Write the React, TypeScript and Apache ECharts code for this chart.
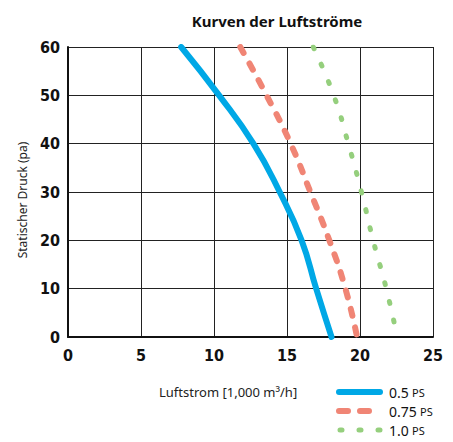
import React, { useEffect, useRef } from "react";
import * as echarts from "echarts";

const pressure = [60, 50, 40, 30, 20, 10, 0];
const flow05 = [7.75, 10.35, 12.7, 14.5, 16.0, 17.0, 18.05];
const flow075 = [11.8, 13.6, 15.25, 16.6, 17.9, 19.0, 19.8];
const flow10 = [16.8, 18.2, 19.2, 20.1, 20.9, 21.8, 22.55];
const seriesNames = ["0.5", "0.75", "1.0"];
const unit = "PS";

const pairs = (xs: number[]) => xs.map((x, i) => [x, pressure[i]]);

const colors = ["#00a8e6", "#f08575", "#95cf7d"];
const lineTypes: any[] = ["solid", [7, 12], [2, 17]];
const widths = [6, 6, 5];

export default function App() {
  const ref = useRef<HTMLDivElement>(null);
  useEffect(() => {
    if (!ref.current) return;
    const chart = echarts.init(ref.current, undefined, { renderer: "svg" });
    const numFont = "'Liberation Sans Narrow', 'DejaVu Sans Condensed', sans-serif";
    const txtFont = "'Noto Sans', sans-serif";
    const legendDash: any[] = [null, [9, 12], [2, 17]];
    const legendItems: any[] = [];
    seriesNames.forEach((n, i) => {
      const y = 392 + i * 19;
      legendItems.push({
        type: "line",
        shape: { x1: i === 2 ? 340 : 339, y1: y, x2: 380, y2: y },
        style: { stroke: colors[i], lineWidth: widths[i], lineDash: legendDash[i], lineCap: "round" },
      });
      legendItems.push({
        type: "text",
        x: 389,
        y: y,
        style: {
          text: `{a|${n}} {b|${unit}}`,
          verticalAlign: "middle",
          rich: {
            a: { fontSize: 14, fill: "#111", fontFamily: txtFont },
            b: { fontSize: 11, fill: "#111", fontFamily: txtFont },
          },
        },
      });
    });
    chart.setOption({
      animation: false,
      backgroundColor: "#fff",
      title: {
        text: "Kurven der Luftströme",
        left: 272,
        textAlign: "center",
        top: 8,
        textStyle: { fontSize: 15, fontWeight: "bold", color: "#111", fontFamily: txtFont },
      },
      grid: { left: 68, right: 20, top: 47, bottom: 105, containLabel: false, outerBoundsMode: "none" },
      xAxis: {
        type: "value",
        min: 0,
        max: 25,
        interval: 5,
        axisLine: { show: true, lineStyle: { color: "#111", width: 2 } },
        axisTick: { show: false },
        splitLine: { show: true, lineStyle: { color: "#222", width: 1 } },
        axisLabel: { color: "#111", fontSize: 16, fontWeight: "bold", fontFamily: numFont, margin: 10 },
      },
      yAxis: {
        type: "value",
        min: 0,
        max: 60,
        interval: 10,
        axisLine: { show: true, lineStyle: { color: "#111", width: 2 } },
        axisTick: { show: false },
        splitLine: { show: true, lineStyle: { color: "#222", width: 1 } },
        axisLabel: { color: "#111", fontSize: 16, fontWeight: "bold", fontFamily: numFont, margin: 8 },
      },
      graphic: [
        {
          type: "text",
          x: 22,
          y: 200,
          rotation: Math.PI / 2,
          style: {
            text: "Statischer Druck (pa)",
            fontSize: 12,
            fill: "#222",
            fontFamily: txtFont,
            align: "center",
            verticalAlign: "middle",
          },
        },
        {
          type: "text",
          x: 159,
          y: 392,
          style: {
            text: "Luftstrom [1,000 m³/h]",
            fontSize: 13,
            fill: "#222",
            fontFamily: txtFont,
            verticalAlign: "middle",
          },
        },
        ...legendItems,
      ],
      series: seriesNames.map((n, i) => ({
        name: n,
        type: "line",
        smooth: 0.5,
        symbol: "none",
        data: pairs([flow05, flow075, flow10][i]),
        lineStyle: { color: colors[i], width: widths[i], type: lineTypes[i], cap: "round" },
        itemStyle: { color: colors[i] },
      })),
    });
    return () => chart.dispose();
  }, []);
  return <div ref={ref} style={{ width: 453, height: 442, position: "absolute", left: 0, top: 0 }} />;
}
